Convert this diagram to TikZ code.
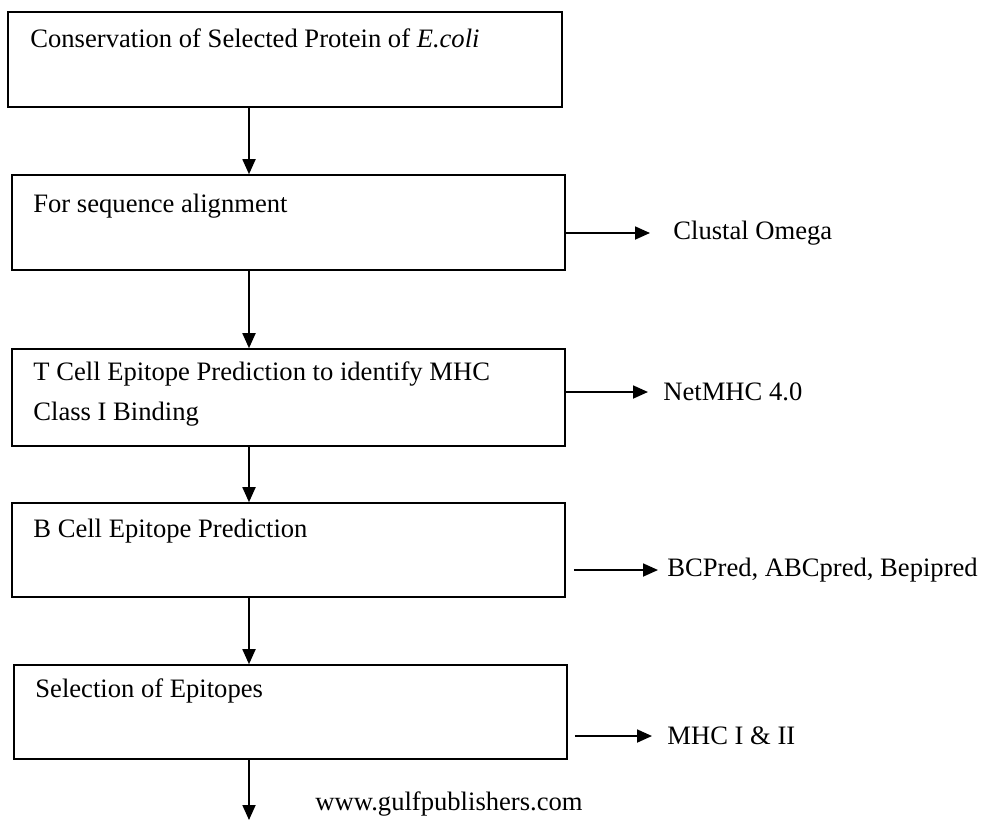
\documentclass[tikz,border=0pt]{standalone}
\usepackage{fontspec}
\setmainfont{Liberation Serif}
\usetikzlibrary{arrows.meta}

\begin{document}
\begin{tikzpicture}[x=0.5pt, y=-0.5pt, every node/.style={font=\fontsize{13.3}{20}\selectfont}, >={Triangle[length=7.5pt, width=6.5pt]},
	stage/.style={draw, line width=0.8pt, minimum width=276.5pt, minimum height=47.5pt, inner sep=0pt},
	caption/.style={anchor=base west, inner sep=0pt, align=left},
	tool/.style={anchor=west, inner sep=0pt},
	flow/.style={->, line width=0.9pt}]
	\useasboundingbox (0,0) rectangle (984,820);
	% boxes of the work flow
	\node[stage, minimum width=277pt] (b1) at (285,59.5) {};
	\node[stage] (b2) at (288.5,222.5) {};
	\node[stage, minimum height=48.5pt] (b3) at (288.5,397.5) {};
	\node[stage, minimum height=47pt] (b4) at (288.5,550) {};
	\node[stage, minimum height=47pt] (b5) at (290.5,712) {};
	\node[caption] (t1) at (30,47) {Conservation of Selected Protein of \textit{E.coli}};
	\node[caption] (t2) at (33,212) {For sequence alignment};
	\node[caption] (t3) at (33,420) {T Cell Epitope Prediction to identify MHC\\Class I Binding};
	\node[caption] (t4) at (33,537) {B Cell Epitope Prediction};
	\node[caption] (t5) at (35,697) {Selection of Epitopes};
	% tools on the right
	\node[tool] (clustal) at (673,233) {Clustal Omega};
	\node[tool] (netmhc) at (663,392) {NetMHC 4.0};
	\node[tool] (bcpred) at (667,570) {BCPred, ABCpred, Bepipred};
	\node[tool] (mhc) at (667,736) {MHC I \& II};
	\node[caption] (site) at (315,810) {www.gulfpublishers.com};
	% arrows
	\coordinate (spine) at (249,0);
	\coordinate (tail) at (249,820);
	\draw[flow] (b1.south -| spine) -- (b2.north -| spine);
	\draw[flow] (b2.south -| spine) -- (b3.north -| spine);
	\draw[flow] (b3.south -| spine) -- (b4.north -| spine);
	\draw[flow] (b4.south -| spine) -- (b5.north -| spine);
	\draw[flow] (b5.south -| spine) -- (tail);
	\draw[flow, shorten >=11.5pt] (b2.east |- clustal.west) -- (clustal.west);
	\draw[flow, shorten >=7.5pt] (b3.east |- netmhc.west) -- (netmhc.west);
	\draw[flow, shorten <=4pt, shorten >=4.5pt] (b4.east |- bcpred.west) -- (bcpred.west);
	\draw[flow, shorten <=3.5pt, shorten >=7.5pt] (b5.east |- mhc.west) -- (mhc.west);
\end{tikzpicture}
\end{document}
